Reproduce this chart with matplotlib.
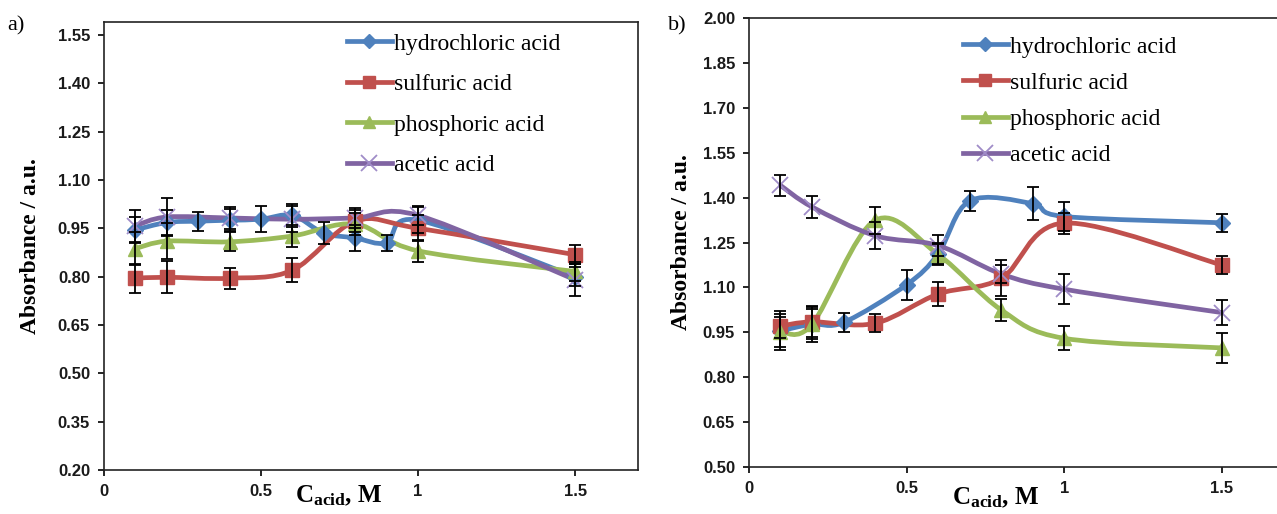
import matplotlib
matplotlib.use("Agg")
import matplotlib.pyplot as plt
from matplotlib.path import Path
from matplotlib.patches import PathPatch
from matplotlib.lines import Line2D

# ---- data ----
series_names = ['hydrochloric acid', 'sulfuric acid', 'phosphoric acid', 'acetic acid']

# panel a
a_x_hcl = [0.1, 0.2, 0.3, 0.4, 0.5, 0.6, 0.7, 0.8, 0.9, 1.0, 1.5]
a_hcl = [0.945, 0.968, 0.972, 0.975, 0.978, 0.99, 0.935, 0.92, 0.905, 0.975, 0.80]
a_hcl_err = [0.04, 0.04, 0.03, 0.035, 0.04, 0.035, 0.035, 0.04, 0.025, 0.04, 0.03]
a_x = [0.1, 0.2, 0.4, 0.6, 0.8, 1.0, 1.5]
a_h2so4 = [0.795, 0.798, 0.795, 0.82, 0.972, 0.95, 0.868]
a_h2so4_err = [0.045, 0.05, 0.032, 0.037, 0.035, 0.04, 0.03]
a_h3po4 = [0.887, 0.91, 0.908, 0.926, 0.963, 0.88, 0.816]
a_h3po4_err = [0.05, 0.055, 0.03, 0.033, 0.035, 0.035, 0.03]
a_acetic = [0.958, 0.985, 0.982, 0.978, 0.982, 0.99, 0.79]
a_acetic_err = [0.05, 0.06, 0.035, 0.04, 0.03, 0.03, 0.05]

# panel b
b_x_hcl = [0.1, 0.2, 0.3, 0.5, 0.6, 0.7, 0.9, 1.0, 1.5]
b_hcl = [0.955, 0.977, 0.983, 1.109, 1.212, 1.389, 1.38, 1.337, 1.316]
b_hcl_err = [0.065, 0.06, 0.033, 0.05, 0.035, 0.032, 0.056, 0.05, 0.03]
b_x = [0.1, 0.2, 0.4, 0.6, 0.8, 1.0, 1.5]
b_h2so4 = [0.971, 0.985, 0.98, 1.078, 1.13, 1.315, 1.175]
b_h2so4_err = [0.04, 0.05, 0.03, 0.04, 0.06, 0.035, 0.03]
b_h3po4 = [0.952, 0.977, 1.324, 1.21, 1.025, 0.93, 0.898]
b_h3po4_err = [0.05, 0.05, 0.045, 0.035, 0.036, 0.04, 0.05]
b_acetic = [1.441, 1.369, 1.273, 1.24, 1.145, 1.094, 1.016]
b_acetic_err = [0.034, 0.037, 0.045, 0.035, 0.03, 0.05, 0.043]

a_yticks = [0.20, 0.35, 0.50, 0.65, 0.80, 0.95, 1.10, 1.25, 1.40, 1.55]
b_yticks = [0.50, 0.65, 0.80, 0.95, 1.10, 1.25, 1.40, 1.55, 1.70, 1.85, 2.00]
x_ticks = [0, 0.5, 1, 1.5]
x_ticklabels = ['0', '0.5', '1', '1.5']

colors = ['#4F81BD', '#C0504D', '#9BBB59', '#8064A2']
markers = ['D', 's', '^', 'x']
msizes = [8, 10, 10, 12]
mfc = ['#4F81BD', '#C0504D', '#9BBB59', '#A08CC8']

plt.rcParams['mathtext.fontset'] = 'custom'
plt.rcParams['mathtext.rm'] = 'Liberation Serif'
plt.rcParams['mathtext.bf'] = 'Liberation Serif:bold'


def smooth_path(xs, ys):
    # excel-like smoothed line: catmull-rom as cubic bezier
    pts = list(zip(xs, ys))
    n = len(pts)
    verts = [pts[0]]
    codes = [Path.MOVETO]
    for i in range(n - 1):
        p0 = pts[i - 1] if i > 0 else pts[i]
        p1 = pts[i]
        p2 = pts[i + 1]
        p3 = pts[i + 2] if i + 2 < n else pts[i + 1]
        c1 = (p1[0] + (p2[0] - p0[0]) / 6, p1[1] + (p2[1] - p0[1]) / 6)
        c2 = (p2[0] - (p3[0] - p1[0]) / 6, p2[1] - (p3[1] - p1[1]) / 6)
        verts += [c1, c2, p2]
        codes += [Path.CURVE4] * 3
    return Path(verts, codes)


def draw_panel(ax, data, ylim, yticks, label_xy, legend_xy, lspace, ylab_x, xlab_xy):
    for k, (xs, ys, errs) in enumerate(data):
        ax.add_patch(PathPatch(smooth_path(xs, ys), fill=False, lw=3.4,
                               edgecolor=colors[k], capstyle='round',
                               joinstyle='round', zorder=2 + k * 0.1))
        if markers[k] == 'x':
            ax.plot(xs, ys, linestyle='none', marker='x', ms=msizes[k],
                    mec=mfc[k], mew=1.3, zorder=3)
        else:
            ax.plot(xs, ys, linestyle='none', marker=markers[k], ms=msizes[k],
                    mfc=mfc[k], mec=colors[k], zorder=3)
        ax.errorbar(xs, ys, yerr=errs, fmt='none', ecolor='black',
                    elinewidth=1.3, capsize=4, capthick=1.3, zorder=4)

    ax.set_xlim(0, 1.7)
    ax.set_ylim(*ylim)
    ax.set_yticks(yticks)
    ax.set_yticklabels(['%.2f' % v for v in yticks])
    ax.set_xticks(x_ticks)
    ax.set_xticklabels(x_ticklabels)
    for t in ax.get_xticklabels() + ax.get_yticklabels():
        t.set_fontfamily('Liberation Sans')
        t.set_fontweight('bold')
        t.set_fontsize(12)
        t.set_color('#1a1a1a')
    ax.tick_params(direction='out', length=4, width=1.2, pad=6)
    for sp in ax.spines.values():
        sp.set_linewidth(1.2)
        sp.set_color('#222222')

    ax.set_ylabel('Absorbance / a.u.', family='Liberation Serif',
                  fontweight='bold', fontsize=17)
    ax.yaxis.set_label_coords(ylab_x, 0.5)
    ax.set_xlabel(r'$\mathbf{C_{acid}}$, M', family='Liberation Serif',
                  fontweight='bold', fontsize=18)
    ax.xaxis.set_label_coords(*xlab_xy)

    handles = []
    for k in range(4):
        if markers[k] == 'x':
            h = Line2D([], [], color=colors[k], lw=3.4, marker='x',
                       ms=msizes[k], mec=mfc[k], mew=1.3)
        else:
            h = Line2D([], [], color=colors[k], lw=3.4, marker=markers[k],
                       ms=msizes[k] - 1, mfc=mfc[k], mec=colors[k])
        handles.append(h)
    ax.legend(handles, series_names, loc='upper left', bbox_to_anchor=legend_xy,
              frameon=False, borderpad=0, borderaxespad=0, handlelength=1.9,
              handletextpad=0.1, labelspacing=lspace,
              prop={'family': 'Liberation Serif', 'size': 17})

    ax.figure.text(label_xy[0], label_xy[1], label_xy[2],
                   family='Liberation Serif', fontsize=16, va='top')


fig = plt.figure(figsize=(12.77, 5.14), dpi=100)
ax_a = fig.add_axes([0.0814, 0.0856, 0.4182, 0.8716])
ax_b = fig.add_axes([0.5865, 0.0914, 0.4197, 0.8735])

data_a = [(a_x_hcl, a_hcl, a_hcl_err), (a_x, a_h2so4, a_h2so4_err),
          (a_x, a_h3po4, a_h3po4_err), (a_x, a_acetic, a_acetic_err)]
data_b = [(b_x_hcl, b_hcl, b_hcl_err), (b_x, b_h2so4, b_h2so4_err),
          (b_x, b_h3po4, b_h3po4_err), (b_x, b_acetic, b_acetic_err)]

draw_panel(ax_a, data_a, (0.2, 1.59), a_yticks, (0.006, 0.968, 'a)'),
           (0.455, 0.975), 0.8, -0.118, (0.44, -0.03))
draw_panel(ax_b, data_b, (0.5, 2.0), b_yticks, (0.523, 0.968, 'b)'),
           (0.399, 0.96), 0.62, -0.106, (0.46, -0.042))
ax_b.spines['right'].set_visible(False)

fig.savefig('out.png', dpi=100)
plt.close(fig)
